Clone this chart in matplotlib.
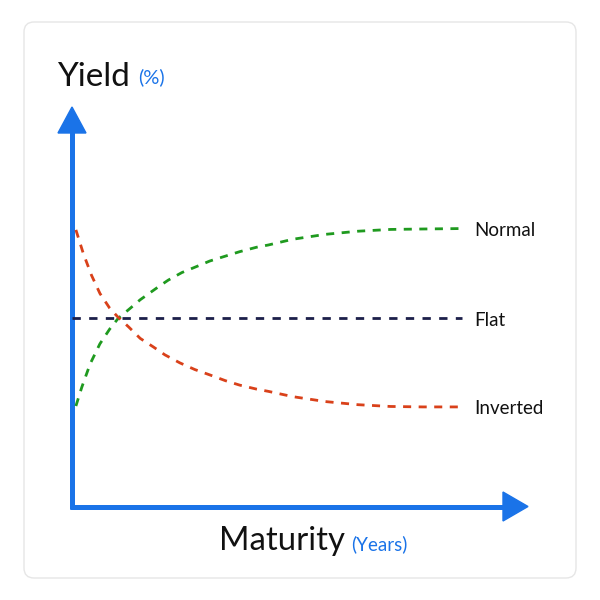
import matplotlib
matplotlib.use("Agg")
import matplotlib.pyplot as plt
from matplotlib.patches import FancyBboxPatch, Polygon

plt.rcParams['font.family'] = ['Lato', 'DejaVu Sans']

# Maturity (years) and yield (%)
normal_x = [0.3, 0.75, 1.4, 2.15, 2.9, 3.55, 4.45, 5.25, 6.5, 7.4, 8.45, 9.7, 10.6,
            11.8, 12.9, 14.2, 15.1, 17, 19.5, 22, 24.5, 27, 30]
normal = [2.27, 2.69, 3.22, 3.67, 4.00, 4.24, 4.46, 4.66, 4.92, 5.10, 5.27, 5.42, 5.53,
          5.64, 5.74, 5.84, 5.89, 6.02, 6.13, 6.20, 6.24, 6.25, 6.26]
inverted_x = [0.3, 0.87, 1.5, 2.15, 2.9, 3.5, 4.35, 5.25, 6.25, 7.15, 8.3, 9.45, 10.6,
              11.8, 12.9, 14.2, 15.1, 17, 19.5, 22, 24.5, 27, 30]
inverted = [6.23, 5.70, 5.21, 4.80, 4.47, 4.28, 4.05, 3.79, 3.60, 3.42, 3.24, 3.09, 2.97,
            2.84, 2.74, 2.65, 2.60, 2.48, 2.37, 2.30, 2.26, 2.25, 2.25]
flat_x = [0, 30]
flat = [4.25, 4.25]

labels = ["Normal", "Flat", "Inverted"]
colors = ["#1f9a1f", "#1c1f4a", "#d9411a"]
blue = "#1a73e8"

fig = plt.figure(figsize=(6, 6), dpi=100)

# decoration layer in pixel coordinates
bg = fig.add_axes([0, 0, 1, 1])
bg.set_xlim(0, 600)
bg.set_ylim(600, 0)
bg.axis('off')
bg.add_patch(FancyBboxPatch((24, 22), 552, 556, boxstyle="round,pad=0,rounding_size=10",
                            fc='white', ec='#e6e6e6', lw=1))
bg.plot([72, 72], [509, 130], color=blue, lw=3.6, solid_capstyle='butt')
bg.plot([70, 505], [507, 507], color=blue, lw=3.6, solid_capstyle='butt')
bg.add_patch(Polygon([(58, 133), (86, 133), (72, 107)], closed=True, color=blue))
bg.add_patch(Polygon([(503, 492), (503, 521), (528, 506.5)], closed=True, color=blue))

bg.text(57, 86, "Yield", fontsize=24, color='#111111', va='baseline')
bg.text(138, 83, "(%)", fontsize=14.5, color=blue, va='baseline')
bg.text(219, 550, "Maturity", fontsize=23.7, color='#111111', va='baseline')
bg.text(351, 550, "(Years)", fontsize=13.5, color=blue, va='baseline')

# chart area: x 0..35.1 yrs, y 0..8.97 %
ax = fig.add_axes([72/600, 93/600, 456/600, 399/600])
ax.set_xlim(0, 35.08)
ax.set_ylim(0, 8.97)
ax.axis('off')
ax.patch.set_alpha(0)

ax.plot(normal_x, normal, color=colors[0], lw=2.0, dashes=(2.9, 2.7), clip_on=False)
ax.plot(flat_x, flat, color=colors[1], lw=2.0, dashes=(3.0, 3.0), clip_on=False)
ax.plot(inverted_x, inverted, color=colors[2], lw=2.0, dashes=(2.9, 2.7), clip_on=False)

ends = [normal[-1], flat[-1], inverted[-1]]
for lab, yv in zip(labels, ends):
    ax.annotate(lab, xy=(30, yv), xytext=(8.5, -1.5), textcoords='offset points',
                va='center', ha='left', fontsize=13.5, color='#111111')

fig.savefig("out.png", dpi=100)
